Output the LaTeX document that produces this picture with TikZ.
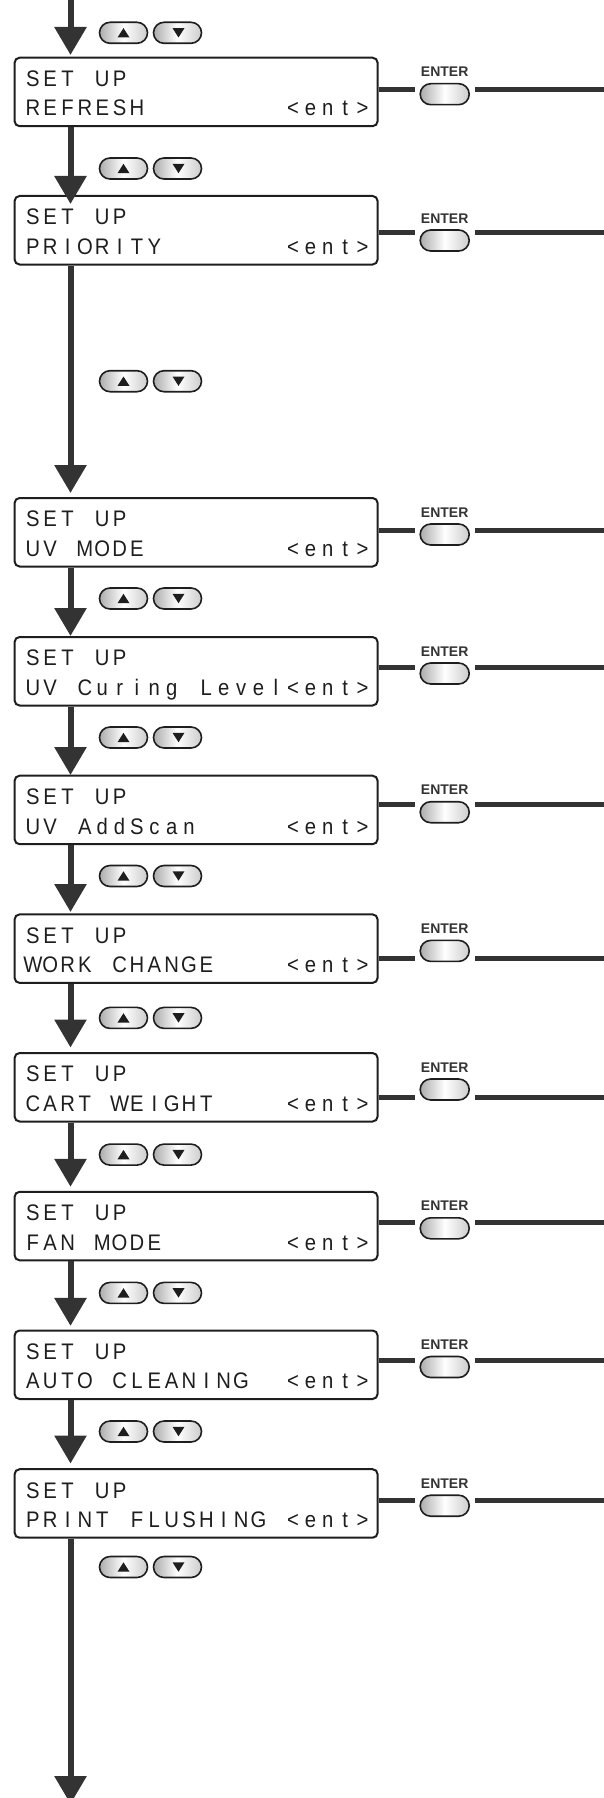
\documentclass[tikz,border=0pt]{standalone}
\usepackage{fontspec}
\usepackage{graphicx}
\usetikzlibrary{arrows.meta,shapes.misc}
\newfontfamily\lcdfont{Liberation Sans}
\newfontfamily\lblfont{Liberation Sans}
\definecolor{ln}{RGB}{51,51,51}
\definecolor{bd}{RGB}{30,30,30}
\ExplSyntaxOn
\str_new:N \l_lcd_str
\NewDocumentCommand\lcdtext{m}{
  \str_set:Nx \l_lcd_str {#1}
  \str_map_inline:Nn \l_lcd_str {\makebox[17.35pt]{\scalebox{0.9}[1]{##1}}}
}
\ExplSyntaxOff
\tikzset{
  lcdbox/.style={draw=bd, line width=2pt, rounded corners=5pt, minimum width=363pt,
    minimum height=68.5pt, inner sep=0pt, fill=white},
  lcdtxt/.style={anchor=base west, inner sep=0pt, text=bd,
    font={\lcdfont\fontsize{22.5pt}{24pt}\selectfont}},
  keybtn/.style={draw=bd, line width=1.6pt, rounded rectangle, minimum width=48pt,
    minimum height=21pt, inner sep=0pt, left color=gray!65, right color=gray!40,
    middle color=white},
  entbtn/.style={keybtn, minimum width=49pt},
  entlbl/.style={anchor=base, inner sep=0pt, text=ln,
    font={\lblfont\bfseries\fontsize{14pt}{14pt}\selectfont}},
  flow/.style={draw=ln, line width=6pt, -{Triangle[width=31pt,length=28pt]}},
  hline/.style={draw=ln, line width=5pt},
}
\newcommand\menubox[3]{%
  \node[lcdbox] (#1) at (196.1,#2+34.25) {};
  \node[lcdtxt] (#1a) at (24,#2+28.8) {\lcdtext{SET UP}};
  \node[lcdtxt] (#1b) at (24,#2+58.3) {\lcdtext{#3}};
  \node[lcdtxt] (#1c) at (24+15*17.35,#2+58.3) {\lcdtext{<ent>}};
}
\newcommand\entergroup[4]{%
  \node[entlbl] (#1l) at (444.7,#2+#3+19) {ENTER};
  \node[entbtn] (#1e) at (444.7,#2+#3+36.5) {};
  \coordinate (#1p) at (415,#2+#4);
  \coordinate (#1q) at (475,#2+#4);
  \coordinate (#1r) at (604,#2+#4);
  \draw[hline] (#1.east |- #1p) -- (#1p);
  \draw[hline] (#1q) -- (#1r);
}
\newcommand\arrowkeys[2]{%
  \node[keybtn] (#1u) at (123.5,#2) {};
  \node[keybtn] (#1d) at (177.5,#2) {};
  \fill[bd] ([shift={(-6,4.7)}]#1u.center) -- ([shift={(6,4.7)}]#1u.center) -- ([shift={(0,-4.7)}]#1u.center) -- cycle;
  \fill[bd] ([shift={(-5,-4.7)}]#1d.center) -- ([shift={(7,-4.7)}]#1d.center) -- ([shift={(1,4.7)}]#1d.center) -- cycle;
}
\begin{document}
\begin{tikzpicture}[x=1pt,y=-1pt]
\useasboundingbox (0,0) rectangle (604,1798);
\clip (0,0) rectangle (604,1798);
% boxes
\menubox{b1}{57.7}{REFRESH}
\menubox{b2}{196}{PRIORITY}
\menubox{b3}{498}{UV MODE}
\menubox{b4}{637}{UV Curing Level}
\menubox{b5}{775.7}{UV AddScan}
\menubox{b6}{914.4}{WORK CHANGE}
\menubox{b7}{1053}{CART WEIGHT}
\menubox{b8}{1191.8}{FAN MODE}
\menubox{b9}{1330.5}{AUTO CLEANING}
\menubox{b10}{1469.2}{PRINT FLUSHING}
% enter keys
\entergroup{b1}{57.7}{0}{31.6}
\entergroup{b2}{196}{8}{36.6}
\entergroup{b3}{498}{0}{32}
\entergroup{b4}{637}{0}{30.5}
\entergroup{b5}{775.7}{0}{28.5}
\entergroup{b6}{914.4}{0}{44}
\entergroup{b7}{1053}{0}{44}
\entergroup{b8}{1191.8}{0}{30.4}
\entergroup{b9}{1330.5}{0}{30.3}
\entergroup{b10}{1469.2}{0}{31}
% up/down keys
\arrowkeys{k1}{32.8}
\arrowkeys{k2}{168.5}
\arrowkeys{k3}{381.2}
\arrowkeys{k4}{598.5}
\arrowkeys{k5}{737.5}
\arrowkeys{k6}{876}
\arrowkeys{k7}{1017.9}
\arrowkeys{k8}{1154.6}
\arrowkeys{k9}{1292.9}
\arrowkeys{k10}{1431.5}
\arrowkeys{k11}{1567}
% flow
\coordinate (start) at (70.5,0);
\coordinate (t1) at (70.5,55);
\coordinate (t2) at (70.5,204);
\coordinate (t3) at (70.5,493);
\coordinate (t4) at (70.5,636);
\coordinate (t5) at (70.5,775);
\coordinate (t6) at (70.5,912);
\coordinate (t7) at (70.5,1047.5);
\coordinate (t8) at (70.5,1186.8);
\coordinate (t9) at (70.5,1325.9);
\coordinate (t10) at (70.5,1463.5);
\coordinate (tend) at (70.5,1804);
\draw[flow] (start) -- (t1);
\draw[flow] (start |- b1.south) -- (t2);
\draw[flow] (start |- b2.south) -- (t3);
\draw[flow] (start |- b3.south) -- (t4);
\draw[flow] (start |- b4.south) -- (t5);
\draw[flow] (start |- b5.south) -- (t6);
\draw[flow] (start |- b6.south) -- (t7);
\draw[flow] (start |- b7.south) -- (t8);
\draw[flow] (start |- b8.south) -- (t9);
\draw[flow] (start |- b9.south) -- (t10);
\draw[flow] (start |- b10.south) -- (tend);
\end{tikzpicture}
\end{document}
